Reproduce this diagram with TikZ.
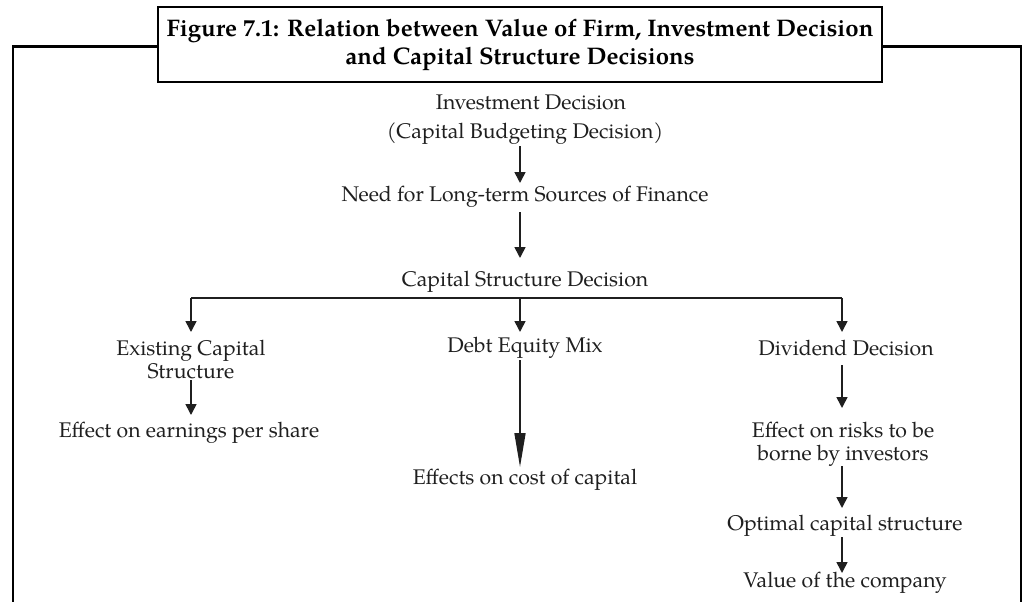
\documentclass[tikz,border=0pt]{standalone}
\usepackage{fontspec}
\setmainfont{TeX Gyre Pagella}
\usetikzlibrary{arrows.meta,calc}
\begin{document}
\begin{tikzpicture}[x=1pt,y=-1pt,
  txt/.style={inner sep=0pt, align=center, font=\fontsize{21.2}{23}\selectfont, text=black!88},
  titlebox/.style={draw, line width=2.2pt, inner sep=0pt, align=center,
    font=\fontsize{24}{28}\selectfont\bfseries, minimum width=724pt, minimum height=75pt},
  frame/.style={line width=2.2pt},
  arr/.style={line width=1.6pt, draw=black!88, -{Triangle[width=11pt,length=11pt]}},
  longarr/.style={line width=1.6pt, draw=black!88, -{Triangle[width=11pt,length=34pt]}}]
\useasboundingbox (0,0) rectangle (1028,602);
% title and frame
\node[titlebox] (title) at (520,44.5) {Figure 7.1: Relation between Value of Firm, Investment Decision\\and Capital Structure Decisions};
\coordinate (fl) at (13,602);
\coordinate (fr) at (1021,602);
\draw[frame] (fl) |- ([yshift=-2pt]title.west);
\draw[frame] ([yshift=-2pt]title.east) -| (fr);
% column x positions
\coordinate (xl) at (191,0);
\coordinate (xm) at (520,0);
\coordinate (xr) at (842,0);
% text nodes
\node[txt] (inv) at (531,102) {Investment Decision};
\node[txt] (cb) at (525,134) {(Capital Budgeting Decision)};
\node[txt] (need) at (525,197) {Need for Long-term Sources of Finance};
\node[txt] (csd) at (525,282) {Capital Structure Decision};
\coordinate (bar) at (520,298);
\node[txt] (ecs) at (191,360) {Existing Capital\\Structure};
\node[txt] (dem) at (525,348) {Debt Equity Mix};
\node[txt] (dd) at (846,348) {Dividend Decision};
\node[txt] (eeps) at (189,433) {Effect on earnings per share};
\node[txt] (ecc) at (525,480) {Effects on cost of capital};
\node[txt] (risk) at (843,444) {Effect on risks to be\\borne by investors};
\node[txt] (opt) at (845,526) {Optimal capital structure};
\node[txt] (val) at (845,583) {Value of the company};
% connectors
\draw[arr] ($(cb.center -| xm)+(0,12)$) -- ($(need.center -| xm)+(0,-14)$);
\draw[arr] ($(need.center -| xm)+(0,15)$) -- ($(csd.center -| xm)+(0,-24)$);
\draw[line width=1.6pt, draw=black!88] (bar -| xl) -- (bar -| xr);
\draw[arr] (bar -| xl) -- ($(ecs.center -| xl)+(0,-28)$);
\draw[arr] (bar -| xm) -- ($(dem.center -| xm)+(0,-16)$);
\draw[arr] (bar -| xr) -- ($(dd.center -| xr)+(0,-16)$);
\draw[arr] ($(ecs.center -| xl)+(0,20)$) -- ($(eeps.center -| xl)+(0,-18)$);
\draw[longarr] ($(dem.center -| xm)+(0,12)$) -- ($(ecc.center -| xm)+(0,-13)$);
\draw[arr] ($(dd.center -| xr)+(0,17)$) -- ($(risk.center -| xr)+(0,-36)$);
\draw[arr] ($(risk.center -| xr)+(0,22)$) -- ($(opt.center -| xr)+(0,-18)$);
\draw[arr] ($(opt.center -| xr)+(0,11)$) -- ($(val.center -| xr)+(0,-10)$);
\end{tikzpicture}
\end{document}
